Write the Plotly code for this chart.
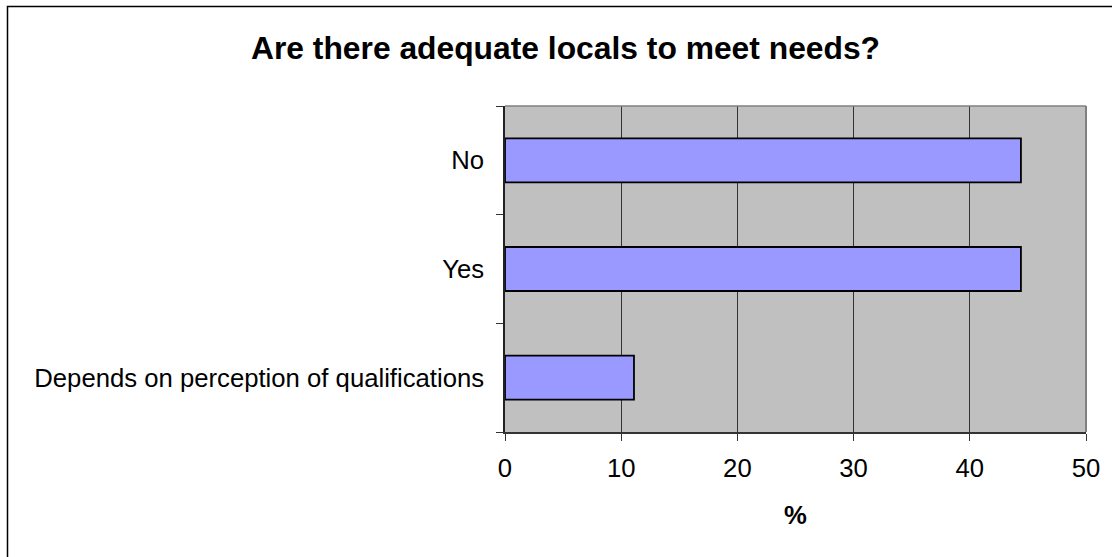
import plotly.graph_objects as go

categories = ["Depends on perception of qualifications", "Yes", "No"]
values = [11.1, 44.4, 44.4]
x_ticks = [0, 10, 20, 30, 40, 50]

W, H = 1112, 557
L, R, T, B = 505, 26, 106, 125
pw, ph = W - L - R, H - T - B

def px_x(p):
    return (p - L) / pw

def px_y(p):
    return (H - B - p) / ph

fig = go.Figure(go.Bar(
    x=values, y=categories, orientation="h",
    marker=dict(color="#9999FF", line=dict(color="black", width=1.8)),
    hoverinfo="skip",
))

font = "Liberation Sans, Arial, sans-serif"

fig.update_layout(
    width=W, height=H,
    margin=dict(l=L, r=R, t=T, b=B, pad=0),
    paper_bgcolor="white", plot_bgcolor="#C0C0C0",
    bargap=0.595, showlegend=False,
    font=dict(family=font, size=25.7, color="black"),
    title=dict(text="<b>Are there adequate locals to meet needs?</b>",
               x=565.5 / W, xref="container", xanchor="center",
               y=1 - 48 / H, yref="container", yanchor="middle",
               font=dict(family=font, size=31.8, color="black")),
    xaxis=dict(range=[0, 50], tickvals=x_ticks, ticks="outside", ticklen=7,
               tickcolor="#333333", showline=True, linecolor="#333333", linewidth=1.5,
               showgrid=True, gridcolor="#333333", gridwidth=1, zeroline=False,
               ticklabelstandoff=5,
               title=dict(text="<b>%</b>", standoff=25, font=dict(size=25.7))),
    yaxis=dict(ticks="outside", tickson="boundaries", ticklen=7, tickcolor="#333333",
               showline=True, linecolor="#222222", linewidth=1.5, showgrid=False,
               ticklabelstandoff=14),
    shapes=[
        dict(type="line", xref="paper", yref="paper", x0=0, x1=1, y0=1, y1=1,
             line=dict(color="#808080", width=1.5)),
        dict(type="line", xref="paper", yref="paper", x0=1, x1=1, y0=0, y1=1,
             line=dict(color="#808080", width=2)),
        dict(type="rect", xref="paper", yref="paper",
             x0=px_x(7.5), x1=px_x(1125), y0=px_y(575), y1=px_y(6.5),
             line=dict(color="black", width=1.5)),
    ],
)

fig.write_html("out.html",
               config={"displayModeBar": False},
               post_script="document.body.style.margin='0';document.body.style.overflow='hidden';")
